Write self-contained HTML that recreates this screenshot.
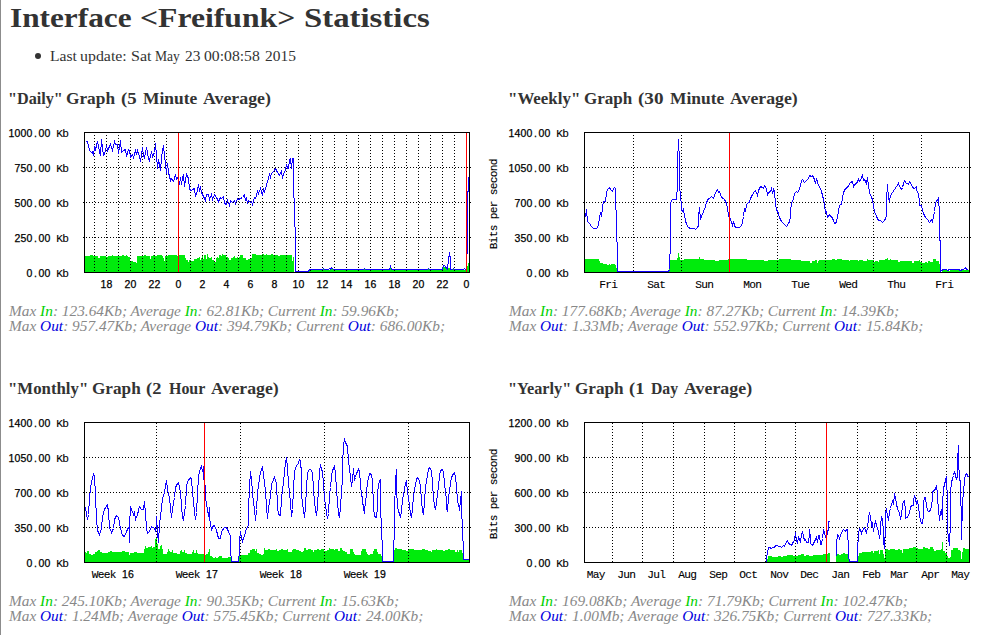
<!DOCTYPE html>
<html><head><meta charset="utf-8"><title>Interface Freifunk Statistics</title>
<style>
html,body{margin:0;padding:0;background:#fff;}
body{width:990px;height:635px;position:relative;overflow:hidden;font-family:"Liberation Serif",serif;}
h1,h2,p,ul,li{margin:0;padding:0;list-style:none;font-size:0;line-height:0;position:static}
.x{position:absolute;white-space:nowrap;transform-origin:0 0;display:block}
.i{color:#00d000} .o{color:#0000dd}
#edge{position:absolute;left:0;top:0;width:1px;height:635px;background:#8c8c8c}
#bul{position:absolute;left:35px;top:53px;width:6px;height:6px;border-radius:50%;background:#333}
svg{position:absolute;left:0;top:0}
.g{stroke:#000;stroke-width:1;stroke-dasharray:1 2;shape-rendering:crispEdges}
.t{font:10.5px "Liberation Sans",sans-serif;fill:#000;text-anchor:middle;stroke:#000;stroke-width:.25px}
.m{font:11.2px "Liberation Mono",monospace;stroke-width:.1px}
</style></head><body>
<div id="edge"></div>
<div id="bul"></div>
<h1>
<span id="h10" class="x" style="left:10.10px;top:5.14px;font:bold 27.3px/1 'Liberation Serif',serif;color:#333;transform:scaleX(1.1460)">Interface</span>
<span id="h11" class="x" style="left:140.00px;top:5.14px;font:bold 27.3px/1 'Liberation Serif',serif;color:#333;transform:scaleX(1.1611)">&lt;Freifunk&gt;</span>
<span id="h12" class="x" style="left:303.80px;top:5.14px;font:bold 27.3px/1 'Liberation Serif',serif;color:#333;transform:scaleX(1.2013)">Statistics</span>
</h1>
<ul><li>
<span id="lu0" class="x" style="left:49.60px;top:49.42px;font:normal 14.3px/1 'Liberation Serif',serif;color:#333;transform:scaleX(1.0924)">Last</span>
<span id="lu1" class="x" style="left:79.90px;top:49.42px;font:normal 14.3px/1 'Liberation Serif',serif;color:#333;transform:scaleX(1.1118)">update:</span>
<span id="lu2" class="x" style="left:130.70px;top:49.42px;font:normal 14.3px/1 'Liberation Serif',serif;color:#333;transform:scaleX(1.1214)">Sat</span>
<span id="lu3" class="x" style="left:154.70px;top:49.42px;font:normal 14.3px/1 'Liberation Serif',serif;color:#333;transform:scaleX(0.9497)">May</span>
<span id="lu4" class="x" style="left:184.80px;top:49.42px;font:normal 14.3px/1 'Liberation Serif',serif;color:#333;transform:scaleX(1.0772)">23</span>
<span id="lu5" class="x" style="left:204.10px;top:49.42px;font:normal 14.3px/1 'Liberation Serif',serif;color:#333;transform:scaleX(1.0975)">00:08:58</span>
<span id="lu6" class="x" style="left:264.60px;top:49.42px;font:normal 14.3px/1 'Liberation Serif',serif;color:#333;transform:scaleX(1.0807)">2015</span>
</li></ul>
<h2>
<span id="hd0" class="x" style="left:8.35px;top:90.50px;font:bold 16px/1 'Liberation Serif',serif;color:#333;transform:scaleX(1.0116)">&quot;Daily&quot;</span>
<span id="hd1" class="x" style="left:66.20px;top:90.50px;font:bold 16px/1 'Liberation Serif',serif;color:#333;transform:scaleX(1.0806)">Graph</span>
<span id="hd2" class="x" style="left:120.70px;top:90.50px;font:bold 16px/1 'Liberation Serif',serif;color:#333;transform:scaleX(1.1780)">(5</span>
<span id="hd3" class="x" style="left:142.90px;top:90.50px;font:bold 16px/1 'Liberation Serif',serif;color:#333;transform:scaleX(1.0888)">Minute</span>
<span id="hd4" class="x" style="left:203.00px;top:90.50px;font:bold 16px/1 'Liberation Serif',serif;color:#333;transform:scaleX(1.1131)">Average)</span>
</h2>
<h2>
<span id="hw0" class="x" style="left:508.20px;top:90.50px;font:bold 16px/1 'Liberation Serif',serif;color:#333;transform:scaleX(1.0564)">&quot;Weekly&quot;</span>
<span id="hw1" class="x" style="left:583.90px;top:90.50px;font:bold 16px/1 'Liberation Serif',serif;color:#333;transform:scaleX(1.0630)">Graph</span>
<span id="hw2" class="x" style="left:637.70px;top:90.50px;font:bold 16px/1 'Liberation Serif',serif;color:#333;transform:scaleX(1.1956)">(30</span>
<span id="hw3" class="x" style="left:669.70px;top:90.50px;font:bold 16px/1 'Liberation Serif',serif;color:#333;transform:scaleX(1.0888)">Minute</span>
<span id="hw4" class="x" style="left:729.80px;top:90.50px;font:bold 16px/1 'Liberation Serif',serif;color:#333;transform:scaleX(1.1098)">Average)</span>
</h2>
<h2>
<span id="hm0" class="x" style="left:8.20px;top:380.50px;font:bold 16px/1 'Liberation Serif',serif;color:#333;transform:scaleX(1.0492)">&quot;Monthly&quot;</span>
<span id="hm1" class="x" style="left:91.80px;top:380.50px;font:bold 16px/1 'Liberation Serif',serif;color:#333;transform:scaleX(1.0740)">Graph</span>
<span id="hm2" class="x" style="left:146.10px;top:380.50px;font:bold 16px/1 'Liberation Serif',serif;color:#333;transform:scaleX(1.1555)">(2</span>
<span id="hm3" class="x" style="left:168.80px;top:380.50px;font:bold 16px/1 'Liberation Serif',serif;color:#333;transform:scaleX(0.9958)">Hour</span>
<span id="hm4" class="x" style="left:211.20px;top:380.50px;font:bold 16px/1 'Liberation Serif',serif;color:#333;transform:scaleX(1.1098)">Average)</span>
</h2>
<h2>
<span id="hy0" class="x" style="left:508.20px;top:380.50px;font:bold 16px/1 'Liberation Serif',serif;color:#333;transform:scaleX(1.0160)">&quot;Yearly&quot;</span>
<span id="hy1" class="x" style="left:575.00px;top:380.50px;font:bold 16px/1 'Liberation Serif',serif;color:#333;transform:scaleX(1.0718)">Graph</span>
<span id="hy2" class="x" style="left:629.10px;top:380.50px;font:bold 16px/1 'Liberation Serif',serif;color:#333;transform:scaleX(1.1555)">(1</span>
<span id="hy3" class="x" style="left:650.80px;top:380.50px;font:bold 16px/1 'Liberation Serif',serif;color:#333;transform:scaleX(0.9832)">Day</span>
<span id="hy4" class="x" style="left:684.00px;top:380.50px;font:bold 16px/1 'Liberation Serif',serif;color:#333;transform:scaleX(1.1164)">Average)</span>
</h2>
<p>
<span id="s1a" class="x" style="left:8.70px;top:303.91px;font:italic 14.2px/1 'Liberation Serif',serif;color:#888;transform:scaleX(1.0815)">Max <span class="i">In</span>: 123.64Kb; Average <span class="i">In</span>: 62.81Kb; Current <span class="i">In</span>: 59.96Kb;</span>
<span id="s1b" class="x" style="left:8.70px;top:318.91px;font:italic 14.2px/1 'Liberation Serif',serif;color:#888;transform:scaleX(1.0815)">Max <span class="o">Out</span>: 957.47Kb; Average <span class="o">Out</span>: 394.79Kb; Current <span class="o">Out</span>: 686.00Kb;</span>
</p>
<p>
<span id="s2a" class="x" style="left:508.70px;top:303.91px;font:italic 14.2px/1 'Liberation Serif',serif;color:#888;transform:scaleX(1.0815)">Max <span class="i">In</span>: 177.68Kb; Average <span class="i">In</span>: 87.27Kb; Current <span class="i">In</span>: 14.39Kb;</span>
<span id="s2b" class="x" style="left:508.70px;top:318.91px;font:italic 14.2px/1 'Liberation Serif',serif;color:#888;transform:scaleX(1.0782)">Max <span class="o">Out</span>: 1.33Mb; Average <span class="o">Out</span>: 552.97Kb; Current <span class="o">Out</span>: 15.84Kb;</span>
</p>
<p>
<span id="s3a" class="x" style="left:8.70px;top:593.91px;font:italic 14.2px/1 'Liberation Serif',serif;color:#888;transform:scaleX(1.0815)">Max <span class="i">In</span>: 245.10Kb; Average <span class="i">In</span>: 90.35Kb; Current <span class="i">In</span>: 15.63Kb;</span>
<span id="s3b" class="x" style="left:8.70px;top:608.91px;font:italic 14.2px/1 'Liberation Serif',serif;color:#888;transform:scaleX(1.0782)">Max <span class="o">Out</span>: 1.24Mb; Average <span class="o">Out</span>: 575.45Kb; Current <span class="o">Out</span>: 24.00Kb;</span>
</p>
<p>
<span id="s4a" class="x" style="left:508.70px;top:593.91px;font:italic 14.2px/1 'Liberation Serif',serif;color:#888;transform:scaleX(1.0846)">Max <span class="i">In</span>: 169.08Kb; Average <span class="i">In</span>: 71.79Kb; Current <span class="i">In</span>: 102.47Kb;</span>
<span id="s4b" class="x" style="left:508.70px;top:608.91px;font:italic 14.2px/1 'Liberation Serif',serif;color:#888;transform:scaleX(1.0814)">Max <span class="o">Out</span>: 1.00Mb; Average <span class="o">Out</span>: 326.75Kb; Current <span class="o">Out</span>: 727.33Kb;</span>
</p>
<svg width="990" height="635" viewBox="0 0 990 635">
<path d="M84.0,272.5L84.0,256.0L90.1,256.0L90.1,255.1L92.9,255.1L92.9,256.0L98.4,256.0L98.4,257.9L100.1,257.9L100.1,256.0L106.2,256.0L106.2,256.8L107.9,256.8L107.9,255.7L111.8,255.7L111.8,255.1L112.9,255.1L112.9,255.7L121.8,255.7L121.8,255.1L124.0,255.1L124.0,255.7L125.7,255.7L125.7,255.1L127.3,255.1L127.3,256.0L128.4,256.0L128.4,257.3L129.6,257.3L129.6,261.8L130.7,261.8L130.7,260.9L132.9,260.9L132.9,261.6L134.6,261.6L134.6,262.3L136.2,262.3L136.2,262.9L137.1,262.9L137.1,256.0L144.0,256.0L144.0,255.1L145.7,255.1L145.7,256.0L150.1,256.0L150.1,259.0L151.2,259.0L151.2,255.7L153.4,255.7L153.4,255.1L155.1,255.1L155.1,256.0L157.3,256.0L157.3,255.1L161.8,255.1L161.8,256.0L162.9,256.0L162.9,258.4L164.0,258.4L164.0,260.7L165.1,260.7L165.1,256.0L168.4,256.0L168.4,255.1L177.3,255.1L177.3,255.7L178.4,255.7L178.4,255.1L184.6,255.1L184.6,257.9L185.7,257.9L185.7,260.1L187.9,260.1L187.9,261.8L189.0,261.8L189.0,260.1L190.0,260.1L190.0,260.1L191.1,260.1L191.1,260.7L193.9,260.7L193.9,259.0L196.7,259.0L196.7,257.9L198.9,257.9L198.9,257.1L200.0,257.1L200.0,259.6L201.1,259.6L201.1,258.4L202.2,258.4L202.2,255.1L203.1,255.1L203.1,259.0L204.4,259.0L204.4,254.9L205.6,254.9L205.6,259.0L206.7,259.0L206.7,254.2L207.8,254.2L207.8,257.3L209.4,257.3L209.4,258.4L210.6,258.4L210.6,257.1L211.7,257.1L211.7,259.6L213.3,259.6L213.3,260.1L214.4,260.1L214.4,261.8L215.6,261.8L215.6,258.4L216.7,258.4L216.7,256.8L217.8,256.8L217.8,257.9L219.4,257.9L219.4,255.1L220.6,255.1L220.6,256.0L221.7,256.0L221.7,254.2L223.3,254.2L223.3,255.3L225.6,255.3L225.6,256.8L227.8,256.8L227.8,257.9L229.4,257.9L229.4,259.6L231.1,259.6L231.1,258.4L232.8,258.4L232.8,257.3L233.9,257.3L233.9,256.0L235.0,256.0L235.0,257.9L236.7,257.9L236.7,257.1L237.8,257.1L237.8,258.4L238.9,258.4L238.9,257.3L240.0,257.3L240.0,254.9L242.8,254.9L242.8,257.9L245.6,257.9L245.6,259.6L247.8,259.6L247.8,259.0L250.0,259.0L250.0,257.9L251.7,257.9L251.7,254.2L256.1,254.2L256.1,254.9L262.2,254.9L262.2,254.2L263.9,254.2L263.9,254.7L266.1,254.7L266.1,254.0L267.2,254.0L267.2,254.9L271.1,254.9L271.1,254.2L272.8,254.2L272.8,254.9L274.4,254.9L274.4,255.3L276.7,255.3L276.7,254.9L277.8,254.9L277.8,255.6L280.0,255.6L280.0,255.1L285.6,255.1L285.6,254.9L288.9,254.9L288.9,255.3L291.1,255.3L291.1,254.9L292.0,254.9L292.0,261.2L293.1,261.2L293.1,257.1L294.4,257.1L294.5,272.5L308.6,272.5L309.6,270.0L322.6,270.0L323.4,268.8L324.4,270.0L330.0,270.0L331.6,268.0L333.0,270.0L364.0,270.0L364.6,269.0L365.4,270.0L389.6,270.0L390.4,267.0L391.4,270.0L428.0,270.0L428.5,269.0L429.0,270.0L442.0,270.0L443.5,266.5L446.0,268.0L447.0,270.0L448.0,270.0L449.0,267.0L450.5,269.0L452.0,270.0L453.0,270.0L453.6,268.5L454.2,270.0L466.5,270.0L467.5,266.0L468.7,263.0L469.5,263.0L469.5,272.5Z" fill="#00eb0c" stroke="none" shape-rendering="crispEdges"/>
<line x1="83.0" y1="167.5" x2="471.0" y2="167.5" class="g"/>
<line x1="83.0" y1="202.5" x2="471.0" y2="202.5" class="g"/>
<line x1="83.0" y1="237.5" x2="471.0" y2="237.5" class="g"/>
<line x1="94.5" y1="135.0" x2="94.5" y2="272.5" class="g"/>
<line x1="106.5" y1="135.0" x2="106.5" y2="272.5" class="g"/>
<line x1="118.5" y1="135.0" x2="118.5" y2="272.5" class="g"/>
<line x1="130.5" y1="135.0" x2="130.5" y2="272.5" class="g"/>
<line x1="142.5" y1="135.0" x2="142.5" y2="272.5" class="g"/>
<line x1="154.5" y1="135.0" x2="154.5" y2="272.5" class="g"/>
<line x1="166.5" y1="135.0" x2="166.5" y2="272.5" class="g"/>
<line x1="178.5" y1="135.0" x2="178.5" y2="272.5" class="g"/>
<line x1="190.5" y1="135.0" x2="190.5" y2="272.5" class="g"/>
<line x1="202.5" y1="135.0" x2="202.5" y2="272.5" class="g"/>
<line x1="214.5" y1="135.0" x2="214.5" y2="272.5" class="g"/>
<line x1="226.5" y1="135.0" x2="226.5" y2="272.5" class="g"/>
<line x1="238.5" y1="135.0" x2="238.5" y2="272.5" class="g"/>
<line x1="250.5" y1="135.0" x2="250.5" y2="272.5" class="g"/>
<line x1="262.5" y1="135.0" x2="262.5" y2="272.5" class="g"/>
<line x1="274.5" y1="135.0" x2="274.5" y2="272.5" class="g"/>
<line x1="286.5" y1="135.0" x2="286.5" y2="272.5" class="g"/>
<line x1="298.5" y1="135.0" x2="298.5" y2="272.5" class="g"/>
<line x1="310.5" y1="135.0" x2="310.5" y2="272.5" class="g"/>
<line x1="322.5" y1="135.0" x2="322.5" y2="272.5" class="g"/>
<line x1="334.5" y1="135.0" x2="334.5" y2="272.5" class="g"/>
<line x1="346.5" y1="135.0" x2="346.5" y2="272.5" class="g"/>
<line x1="358.5" y1="135.0" x2="358.5" y2="272.5" class="g"/>
<line x1="370.5" y1="135.0" x2="370.5" y2="272.5" class="g"/>
<line x1="382.5" y1="135.0" x2="382.5" y2="272.5" class="g"/>
<line x1="394.5" y1="135.0" x2="394.5" y2="272.5" class="g"/>
<line x1="406.5" y1="135.0" x2="406.5" y2="272.5" class="g"/>
<line x1="418.5" y1="135.0" x2="418.5" y2="272.5" class="g"/>
<line x1="430.5" y1="135.0" x2="430.5" y2="272.5" class="g"/>
<line x1="442.5" y1="135.0" x2="442.5" y2="272.5" class="g"/>
<line x1="454.5" y1="135.0" x2="454.5" y2="272.5" class="g"/>
<line x1="466.5" y1="135.0" x2="466.5" y2="272.5" class="g"/>
<polyline points="85.5,141.5 87.5,141.5 89.5,150.5 91.5,152.5 92.5,151.5 93.5,155.5 94.5,147.5 95.5,149.5 97.5,141.5 99.5,151.5 100.5,155.5 101.5,139.5 103.5,155.5 104.5,154.5 106.5,145.5 107.5,150.5 109.5,146.5 110.5,144.5 112.5,150.5 114.5,141.5 115.5,144.5 117.5,144.5 118.5,153.5 120.5,140.5 121.5,152.5 123.5,150.5 125.5,149.5 126.5,156.5 128.5,149.5 129.5,150.5 130.5,157.5 132.5,154.5 133.5,157.5 135.5,150.5 136.5,154.5 137.5,150.5 139.5,156.5 140.5,161.5 142.5,147.5 143.5,155.5 144.5,157.5 146.5,147.5 148.5,158.5 149.5,160.5 151.5,151.5 152.5,156.5 154.5,152.5 155.5,143.5 157.5,168.5 158.5,159.5 160.5,170.5 161.5,157.5 163.5,145.5 164.5,155.5 166.5,173.5 167.5,163.5 168.5,172.5 170.5,180.5 171.5,178.5 173.5,181.5 175.5,174.5 176.5,179.5 178.5,176.5 179.5,184.5 180.5,177.5 181.5,184.5 182.5,177.5 183.5,174.5 184.5,186.5 185.5,180.5 186.5,174.5 188.5,178.5 189.5,189.5 191.5,190.5 192.5,189.5 194.5,188.5 195.5,196.5 197.5,190.5 198.5,184.5 199.5,191.5 200.5,186.5 201.5,192.5 203.5,196.5 205.5,200.5 206.5,194.5 208.5,194.5 209.5,199.5 211.5,194.5 212.5,199.5 214.5,194.5 216.5,197.5 218.5,201.5 220.5,197.5 221.5,198.5 223.5,196.5 224.5,203.5 226.5,204.5 227.5,200.5 229.5,205.5 230.5,200.5 232.5,202.5 234.5,200.5 235.5,203.5 237.5,198.5 238.5,199.5 240.5,198.5 242.5,197.5 244.5,194.5 245.5,200.5 246.5,197.5 247.5,203.5 248.5,200.5 250.5,202.5 251.5,201.5 252.5,204.5 254.5,197.5 255.5,198.5 257.5,191.5 258.5,193.5 260.5,188.5 262.5,195.5 263.5,189.5 264.5,191.5 265.5,188.5 267.5,181.5 269.5,174.5 270.5,177.5 271.5,173.5 273.5,171.5 275.5,168.5 277.5,172.5 279.5,175.5 281.5,170.5 282.5,178.5 283.5,173.5 285.5,170.5 286.5,164.5 287.5,168.5 288.5,168.5 289.5,159.5 290.5,158.5 291.5,168.5 292.5,158.5 293.5,158.5 293.5,197.5 294.5,198.5 295.5,254.5 295.5,271.5 308.5,271.5 309.5,269.5 322.5,269.5 323.5,268.5 324.5,269.5 328.5,269.5 329.5,268.5 330.5,269.5 331.5,267.5 333.5,269.5 363.5,269.5 364.5,268.5 365.5,269.5 376.5,269.5 389.5,269.5 390.5,266.5 391.5,269.5 427.5,269.5 428.5,268.5 429.5,269.5 442.5,269.5 443.5,265.5 444.5,265.5 447.5,269.5 448.5,259.5 449.5,252.5 450.5,260.5 450.5,269.5 452.5,269.5 453.5,268.5 454.5,269.5 463.5,269.5 464.5,268.5 465.5,269.5 466.5,269.5 467.5,237.5 467.5,191.5 468.5,191.5 468.5,176.5" fill="none" stroke="#1000ff" stroke-width="1" stroke-linejoin="miter" shape-rendering="crispEdges"/>
<line x1="178.5" y1="132.5" x2="178.5" y2="272.5" stroke="#ff0000" stroke-width="1" shape-rendering="crispEdges"/>
<line x1="466.5" y1="132.5" x2="466.5" y2="272.5" stroke="#ff0000" stroke-width="1" shape-rendering="crispEdges"/>
<rect x="84.5" y="132.5" width="385" height="140" fill="none" stroke="#000" stroke-width="1" shape-rendering="crispEdges"/>
<text x="11.5 17.5 23.5 29.5 35.5 41.5 47.5" y="136.8" class="t">1000.00</text><text x="59.5 65.5" y="136.8" class="t m">Kb</text>
<text x="17.5 23.5 29.5 35.5 41.5 47.5" y="171.8" class="t">750.00</text><text x="59.5 65.5" y="171.8" class="t m">Kb</text>
<text x="17.5 23.5 29.5 35.5 41.5 47.5" y="206.8" class="t">500.00</text><text x="59.5 65.5" y="206.8" class="t m">Kb</text>
<text x="17.5 23.5 29.5 35.5 41.5 47.5" y="241.8" class="t">250.00</text><text x="59.5 65.5" y="241.8" class="t m">Kb</text>
<text x="29.5 35.5 41.5 47.5" y="276.8" class="t">0.00</text><text x="59.5 65.5" y="276.8" class="t m">Kb</text>
<text x="103.5 109.5" y="287.7" class="t">18</text>
<text x="127.5 133.5" y="287.7" class="t">20</text>
<text x="151.5 157.5" y="287.7" class="t">22</text>
<text x="178.5" y="287.7" class="t">0</text>
<text x="202.5" y="287.7" class="t">2</text>
<text x="226.5" y="287.7" class="t">4</text>
<text x="250.5" y="287.7" class="t">6</text>
<text x="274.5" y="287.7" class="t">8</text>
<text x="295.5 301.5" y="287.7" class="t">10</text>
<text x="319.5 325.5" y="287.7" class="t">12</text>
<text x="343.5 349.5" y="287.7" class="t">14</text>
<text x="367.5 373.5" y="287.7" class="t">16</text>
<text x="391.5 397.5" y="287.7" class="t">18</text>
<text x="415.5 421.5" y="287.7" class="t">20</text>
<text x="439.5 445.5" y="287.7" class="t">22</text>
<text x="466.5" y="287.7" class="t">0</text>
<path d="M584.0,272.5L584.0,259.0L599.0,259.0L599.0,260.7L600.1,260.7L600.1,263.1L602.9,263.1L602.9,264.0L606.8,264.0L606.8,264.9L609.0,264.9L609.0,264.0L610.1,264.0L610.1,264.7L611.2,264.7L611.2,264.0L614.6,264.0L614.6,264.9L616.0,264.9L616.0,267.9L617.1,267.9L617.1,272.6L669.0,272.6L669.0,269.0L670.1,269.0L670.1,260.1L676.8,260.1L676.8,257.9L677.9,257.9L677.9,252.9L679.0,252.9L679.0,257.1L680.1,257.1L680.1,259.6L681.8,259.6L681.8,259.8L684.0,259.8L684.0,259.0L690.0,259.0L690.0,259.0L698.9,259.0L698.9,257.1L700.0,257.1L700.0,259.0L703.9,259.0L703.9,260.1L715.0,260.1L715.0,260.9L718.9,260.9L718.9,260.1L723.3,260.1L723.3,259.6L728.3,259.6L728.3,259.0L746.7,259.0L746.7,260.1L763.9,260.1L763.9,260.7L767.8,260.7L767.8,260.1L778.9,260.1L778.9,259.0L790.6,259.0L790.6,260.1L796.0,260.1L796.0,260.1L801.0,260.1L801.0,260.9L803.8,260.9L803.8,260.7L809.9,260.7L809.9,262.9L812.1,262.9L812.1,260.9L815.4,260.9L815.4,260.4L817.1,260.4L817.1,262.7L818.2,262.7L818.2,261.2L819.3,261.2L819.3,260.1L823.8,260.1L823.8,259.6L832.1,259.6L832.1,259.0L834.9,259.0L834.9,259.6L837.1,259.6L837.1,258.8L838.8,258.8L838.8,259.3L841.6,259.3L841.6,260.1L849.3,260.1L849.3,260.7L850.4,260.7L850.4,260.1L858.2,260.1L858.2,260.7L859.3,260.7L859.3,260.1L862.7,260.1L862.7,260.7L866.6,260.7L866.6,259.3L868.2,259.3L868.2,260.1L873.8,260.1L873.8,262.3L875.4,262.3L875.4,260.9L878.2,260.9L878.2,261.6L879.3,261.6L879.3,260.4L882.1,260.4L882.1,259.9L884.9,259.9L884.9,259.0L886.6,259.0L886.6,257.9L888.2,257.9L888.2,259.6L889.9,259.6L889.9,258.8L891.0,258.8L891.0,260.1L897.7,260.5L897.7,261.5L899.7,261.5L899.7,260.5L904.2,260.5L904.2,260.7L906.8,260.7L906.8,260.5L911.8,260.5L911.8,263.0L913.8,263.0L913.8,260.5L918.9,260.5L918.9,259.5L920.4,259.5L920.4,261.5L921.9,261.5L921.9,263.0L924.9,263.0L924.9,261.5L926.5,261.5L926.5,262.5L928.0,262.5L928.0,261.0L929.5,261.0L929.5,261.5L932.5,261.5L932.5,259.3L935.6,259.3L935.6,260.5L939.1,260.5L939.1,264.0L940.4,264.0L940.4,272.4L941.6,272.4L941.6,271.1L943.1,271.1L943.1,269.9L946.2,269.9L946.2,269.9L947.9,269.9L947.9,270.9L949.7,270.9L949.7,269.9L958.8,269.9L958.8,269.9L960.6,269.9L960.6,270.9L962.0,270.9L962.0,269.9L963.8,269.9L963.8,269.6L965.7,269.6L965.7,267.7L966.9,267.7L966.9,269.6L969.4,269.6L969.4,272.5Z" fill="#00eb0c" stroke="none" shape-rendering="crispEdges"/>
<line x1="583.0" y1="167.5" x2="971.0" y2="167.5" class="g"/>
<line x1="583.0" y1="202.5" x2="971.0" y2="202.5" class="g"/>
<line x1="583.0" y1="237.5" x2="971.0" y2="237.5" class="g"/>
<line x1="633.5" y1="135.0" x2="633.5" y2="272.5" class="g"/>
<line x1="681.5" y1="135.0" x2="681.5" y2="272.5" class="g"/>
<line x1="729.5" y1="135.0" x2="729.5" y2="272.5" class="g"/>
<line x1="777.5" y1="135.0" x2="777.5" y2="272.5" class="g"/>
<line x1="825.5" y1="135.0" x2="825.5" y2="272.5" class="g"/>
<line x1="873.5" y1="135.0" x2="873.5" y2="272.5" class="g"/>
<line x1="921.5" y1="135.0" x2="921.5" y2="272.5" class="g"/>
<polyline points="584.5,213.5 585.5,216.5 586.5,209.5 587.5,221.5 589.5,223.5 591.5,226.5 593.5,228.5 596.5,228.5 598.5,225.5 599.5,217.5 600.5,212.5 601.5,216.5 602.5,207.5 603.5,201.5 605.5,201.5 606.5,192.5 607.5,189.5 609.5,187.5 610.5,189.5 612.5,191.5 613.5,188.5 614.5,187.5 615.5,188.5 615.5,209.5 616.5,210.5 617.5,271.5 668.5,271.5 669.5,269.5 670.5,240.5 670.5,224.5 670.5,202.5 672.5,199.5 674.5,199.5 676.5,199.5 676.5,192.5 677.5,191.5 677.5,170.5 677.5,162.5 678.5,139.5 679.5,162.5 679.5,190.5 679.5,190.5 680.5,191.5 681.5,210.5 682.5,211.5 683.5,209.5 684.5,215.5 685.5,220.5 686.5,224.5 688.5,227.5 690.5,228.5 694.5,228.5 695.5,229.5 697.5,227.5 698.5,225.5 698.5,216.5 699.5,207.5 700.5,219.5 701.5,216.5 703.5,211.5 705.5,206.5 706.5,202.5 708.5,198.5 709.5,198.5 711.5,196.5 713.5,198.5 715.5,192.5 717.5,189.5 718.5,192.5 719.5,191.5 721.5,197.5 723.5,198.5 724.5,199.5 726.5,203.5 727.5,207.5 728.5,215.5 730.5,219.5 731.5,222.5 732.5,225.5 733.5,221.5 734.5,225.5 735.5,227.5 737.5,227.5 739.5,227.5 741.5,225.5 742.5,222.5 743.5,216.5 744.5,208.5 745.5,211.5 746.5,204.5 748.5,202.5 749.5,202.5 750.5,198.5 752.5,194.5 754.5,191.5 755.5,190.5 757.5,195.5 758.5,190.5 760.5,186.5 762.5,187.5 763.5,188.5 764.5,185.5 766.5,188.5 767.5,195.5 768.5,192.5 770.5,191.5 771.5,188.5 772.5,193.5 773.5,189.5 774.5,191.5 775.5,203.5 776.5,210.5 777.5,210.5 778.5,214.5 779.5,217.5 781.5,221.5 784.5,224.5 786.5,226.5 788.5,223.5 789.5,221.5 790.5,216.5 790.5,210.5 791.5,203.5 793.5,198.5 794.5,193.5 796.5,191.5 797.5,192.5 799.5,189.5 800.5,185.5 801.5,180.5 802.5,179.5 804.5,182.5 806.5,180.5 808.5,178.5 809.5,175.5 811.5,176.5 812.5,175.5 813.5,177.5 814.5,179.5 815.5,183.5 816.5,178.5 817.5,182.5 819.5,187.5 820.5,188.5 821.5,191.5 823.5,199.5 824.5,204.5 825.5,212.5 826.5,211.5 827.5,217.5 829.5,214.5 830.5,216.5 831.5,216.5 833.5,220.5 834.5,223.5 836.5,222.5 837.5,216.5 838.5,211.5 839.5,205.5 840.5,204.5 841.5,204.5 842.5,197.5 843.5,192.5 845.5,188.5 847.5,187.5 848.5,185.5 850.5,182.5 852.5,181.5 853.5,186.5 854.5,184.5 856.5,183.5 858.5,179.5 859.5,181.5 861.5,178.5 862.5,174.5 863.5,180.5 864.5,179.5 866.5,183.5 867.5,177.5 868.5,185.5 869.5,192.5 871.5,197.5 872.5,199.5 873.5,205.5 874.5,211.5 876.5,216.5 878.5,220.5 880.5,220.5 882.5,222.5 884.5,220.5 885.5,218.5 886.5,215.5 886.5,199.5 887.5,184.5 888.5,199.5 888.5,193.5 889.5,201.5 890.5,195.5 892.5,192.5 894.5,189.5 896.5,186.5 897.5,185.5 898.5,183.5 899.5,186.5 901.5,189.5 902.5,187.5 903.5,183.5 904.5,180.5 906.5,183.5 907.5,183.5 908.5,184.5 909.5,181.5 911.5,184.5 912.5,187.5 914.5,188.5 916.5,186.5 916.5,189.5 918.5,194.5 919.5,201.5 919.5,205.5 921.5,205.5 922.5,210.5 923.5,213.5 925.5,217.5 927.5,219.5 929.5,222.5 931.5,219.5 932.5,222.5 933.5,216.5 934.5,211.5 935.5,203.5 936.5,200.5 937.5,200.5 938.5,197.5 938.5,205.5 939.5,206.5 940.5,271.5 941.5,270.5 943.5,269.5 946.5,269.5 947.5,270.5 949.5,269.5 958.5,269.5 960.5,270.5 962.5,269.5 963.5,269.5 965.5,267.5 966.5,269.5 967.5,269.5" fill="none" stroke="#1000ff" stroke-width="1" stroke-linejoin="miter" shape-rendering="crispEdges"/>
<line x1="729.5" y1="132.5" x2="729.5" y2="272.5" stroke="#ff0000" stroke-width="1" shape-rendering="crispEdges"/>
<rect x="584.5" y="132.5" width="385" height="140" fill="none" stroke="#000" stroke-width="1" shape-rendering="crispEdges"/>
<text x="511.5 517.5 523.5 529.5 535.5 541.5 547.5" y="136.8" class="t">1400.00</text><text x="559.5 565.5" y="136.8" class="t m">Kb</text>
<text x="511.5 517.5 523.5 529.5 535.5 541.5 547.5" y="171.8" class="t">1050.00</text><text x="559.5 565.5" y="171.8" class="t m">Kb</text>
<text x="517.5 523.5 529.5 535.5 541.5 547.5" y="206.8" class="t">700.00</text><text x="559.5 565.5" y="206.8" class="t m">Kb</text>
<text x="517.5 523.5 529.5 535.5 541.5 547.5" y="241.8" class="t">350.00</text><text x="559.5 565.5" y="241.8" class="t m">Kb</text>
<text x="529.5 535.5 541.5 547.5" y="276.8" class="t">0.00</text><text x="559.5 565.5" y="276.8" class="t m">Kb</text>
<text x="602.5 608.5 614.5" y="287.7" class="t m">Fri</text>
<text x="650.5 656.5 662.5" y="287.7" class="t m">Sat</text>
<text x="698.5 704.5 710.5" y="287.7" class="t m">Sun</text>
<text x="746.5 752.5 758.5" y="287.7" class="t m">Mon</text>
<text x="794.5 800.5 806.5" y="287.7" class="t m">Tue</text>
<text x="842.5 848.5 854.5" y="287.7" class="t m">Wed</text>
<text x="890.5 896.5 902.5" y="287.7" class="t m">Thu</text>
<text x="938.5 944.5 950.5" y="287.7" class="t m">Fri</text>
<text x="454.5 460.5 466.5 472.5 484.5 490.5 496.5 508.5 514.5 520.5 526.5 532.5 538.5" y="204.0" class="t m" transform="rotate(-90 496.5 204.0)">Bitspersecond</text>
<path d="M84.0,562.5L84.0,551.7L86.2,551.7L86.2,552.8L87.3,552.8L87.3,551.1L89.0,551.1L89.0,553.9L91.2,553.9L91.2,554.7L93.4,554.7L93.4,553.6L95.1,553.6L95.1,552.2L96.8,552.2L96.8,550.6L98.4,550.6L98.4,550.0L100.1,550.0L100.1,551.7L101.8,551.7L101.8,553.1L107.9,553.1L107.9,551.7L110.1,551.7L110.1,551.1L111.8,551.1L111.8,551.7L115.1,551.7L115.1,552.0L121.8,552.0L121.8,551.1L125.1,551.1L125.1,552.2L129.0,552.2L129.0,554.7L130.1,554.7L130.1,553.1L134.0,553.1L134.0,552.2L136.8,552.2L136.8,553.1L144.0,553.1L144.0,548.9L145.1,548.9L145.1,546.4L146.2,546.4L146.2,548.0L148.4,548.0L148.4,547.2L150.7,547.2L150.7,546.1L152.0,546.1L152.0,547.8L153.4,547.8L153.4,546.7L154.6,546.7L154.6,538.9L155.7,538.9L155.7,537.2L156.8,537.2L156.8,544.4L157.9,544.4L157.9,549.4L159.6,549.4L159.6,545.6L160.7,545.6L160.7,545.0L162.3,545.0L162.3,548.9L163.1,548.9L163.1,553.9L166.8,553.9L166.8,551.7L167.9,551.7L167.9,549.1L169.0,549.1L169.0,550.6L170.1,550.6L170.1,551.7L171.8,551.7L171.8,550.0L172.9,550.0L172.9,553.3L176.2,553.3L176.2,552.8L177.3,552.8L177.3,553.9L180.1,553.9L180.1,551.1L181.2,551.1L181.2,550.2L182.3,550.2L182.3,551.7L184.0,551.7L184.0,550.2L185.1,550.2L185.1,553.3L186.8,553.3L186.8,553.9L190.0,553.9L190.0,553.9L192.2,553.9L192.2,552.2L193.3,552.2L193.3,550.0L194.4,550.0L194.4,552.8L195.6,552.8L195.6,550.2L196.7,550.2L196.7,553.3L198.3,553.3L198.3,554.2L203.9,554.2L203.9,554.7L206.1,554.7L206.1,553.9L207.8,553.9L207.8,551.7L208.9,551.7L208.9,549.1L210.0,549.1L210.0,556.1L211.7,556.1L211.7,557.2L213.3,557.2L213.3,557.8L215.0,557.8L215.0,556.9L216.1,556.9L216.1,557.8L218.3,557.8L218.3,556.7L219.4,556.7L219.4,556.1L222.2,556.1L222.2,557.6L223.9,557.6L223.9,557.8L227.8,557.8L227.8,556.9L230.6,556.9L230.6,557.8L231.3,557.8L231.3,562.4L238.9,562.4L238.9,556.1L240.6,556.1L240.6,555.0L248.3,555.0L248.3,553.3L250.0,553.3L250.0,550.0L252.2,550.0L252.2,549.1L255.0,549.1L255.0,550.6L256.1,550.6L256.1,549.4L257.2,549.4L257.2,553.3L258.9,553.3L258.9,554.4L261.1,554.4L261.1,555.0L263.3,555.0L263.3,553.9L264.2,553.9L264.2,547.8L265.0,547.8L265.0,550.0L267.8,550.0L267.8,549.4L270.0,549.4L270.0,550.0L276.1,550.0L276.1,549.1L277.2,549.1L277.2,550.6L278.9,550.6L278.9,549.8L280.6,549.8L280.6,549.1L283.3,549.1L283.3,550.0L286.7,550.0L286.7,549.1L288.3,549.1L288.3,551.7L291.7,551.7L291.7,549.8L293.3,549.8L293.3,549.1L296.0,549.1L296.0,550.0L299.3,550.0L299.3,550.6L301.0,550.6L301.0,551.7L302.7,551.7L302.7,550.6L304.3,550.6L304.3,548.3L306.0,548.3L306.0,550.0L307.7,550.0L307.7,549.1L311.0,549.1L311.0,550.0L312.7,550.0L312.7,551.7L314.3,551.7L314.3,550.2L316.6,550.2L316.6,549.4L319.3,549.4L319.3,550.2L321.0,550.2L321.0,549.4L324.3,549.4L324.3,551.1L326.6,551.1L326.6,550.0L328.8,550.0L328.8,548.3L330.4,548.3L330.4,549.1L333.8,549.1L333.8,550.0L335.4,550.0L335.4,549.4L337.7,549.4L337.7,551.1L339.9,551.1L339.9,548.3L341.6,548.3L341.6,550.0L343.2,550.0L343.2,551.1L345.4,551.1L345.4,552.2L347.1,552.2L347.1,553.9L349.9,553.9L349.9,555.0L350.4,555.0L350.4,549.1L352.7,549.1L352.7,551.7L353.8,551.7L353.8,553.9L355.4,553.9L355.4,555.0L361.0,555.0L361.0,550.6L362.1,550.6L362.1,549.1L366.0,549.1L366.0,551.7L367.1,551.7L367.1,553.9L368.2,553.9L368.2,555.0L369.9,555.0L369.9,554.2L373.2,554.2L373.2,550.6L374.3,550.6L374.3,549.1L376.6,549.1L376.6,551.7L377.7,551.7L377.7,553.9L381.0,553.9L381.0,555.6L382.1,555.6L382.1,562.4L393.8,562.4L393.8,550.0L395.4,550.0L395.4,548.3L396.6,548.3L396.6,549.1L396.7,548.0L396.7,549.1L402.2,549.1L402.2,550.0L406.1,550.0L406.1,550.6L408.3,550.6L408.3,549.1L413.9,549.1L413.9,550.0L421.7,550.0L421.7,549.1L425.0,549.1L425.0,550.0L427.8,550.0L427.8,550.9L430.6,550.9L430.6,551.7L432.2,551.7L432.2,550.0L435.6,550.0L435.6,549.1L436.7,549.1L436.7,550.0L443.3,550.0L443.3,550.9L445.0,550.9L445.0,550.0L448.3,550.0L448.3,548.9L450.0,548.9L450.0,550.0L455.0,550.0L455.0,551.7L456.7,551.7L456.7,550.0L457.8,550.0L457.8,551.7L458.9,551.7L458.9,550.0L462.2,550.0L462.2,552.8L463.3,552.8L463.3,560.2L469.6,560.2L469.6,562.5Z" fill="#00eb0c" stroke="none" shape-rendering="crispEdges"/>
<line x1="83.0" y1="457.5" x2="471.0" y2="457.5" class="g"/>
<line x1="83.0" y1="492.5" x2="471.0" y2="492.5" class="g"/>
<line x1="83.0" y1="527.5" x2="471.0" y2="527.5" class="g"/>
<line x1="156.5" y1="423.0" x2="156.5" y2="562.5" class="g"/>
<line x1="240.5" y1="423.0" x2="240.5" y2="562.5" class="g"/>
<line x1="324.5" y1="423.0" x2="324.5" y2="562.5" class="g"/>
<line x1="408.5" y1="423.0" x2="408.5" y2="562.5" class="g"/>
<polyline points="84.5,506.5 85.5,508.5 86.5,513.5 87.5,519.5 88.5,514.5 89.5,497.5 91.5,481.5 93.5,474.5 94.5,476.5 95.5,495.5 96.5,519.5 97.5,530.5 99.5,534.5 101.5,528.5 102.5,516.5 104.5,509.5 107.5,504.5 108.5,512.5 109.5,527.5 111.5,532.5 113.5,528.5 114.5,519.5 116.5,515.5 118.5,517.5 120.5,528.5 122.5,535.5 124.5,536.5 126.5,531.5 128.5,527.5 129.5,527.5 129.5,542.5 129.5,524.5 130.5,507.5 131.5,509.5 133.5,514.5 134.5,512.5 135.5,519.5 137.5,514.5 139.5,506.5 141.5,509.5 143.5,509.5 144.5,501.5 145.5,514.5 146.5,527.5 147.5,533.5 149.5,531.5 151.5,526.5 154.5,528.5 155.5,530.5 156.5,525.5 156.5,516.5 157.5,533.5 158.5,542.5 159.5,524.5 161.5,508.5 162.5,498.5 164.5,492.5 166.5,480.5 167.5,489.5 169.5,497.5 170.5,508.5 171.5,517.5 172.5,509.5 174.5,497.5 175.5,487.5 177.5,483.5 178.5,482.5 180.5,492.5 181.5,505.5 182.5,517.5 183.5,519.5 185.5,505.5 186.5,487.5 187.5,481.5 190.5,477.5 191.5,479.5 192.5,492.5 194.5,511.5 195.5,519.5 196.5,512.5 197.5,494.5 198.5,475.5 200.5,468.5 201.5,466.5 202.5,471.5 203.5,466.5 204.5,492.5 205.5,485.5 205.5,498.5 207.5,509.5 208.5,516.5 209.5,507.5 209.5,517.5 211.5,530.5 212.5,526.5 214.5,525.5 216.5,530.5 218.5,538.5 220.5,538.5 221.5,531.5 224.5,527.5 226.5,527.5 228.5,531.5 230.5,536.5 230.5,550.5 231.5,561.5 238.5,561.5 239.5,550.5 239.5,540.5 240.5,531.5 241.5,537.5 242.5,541.5 244.5,535.5 246.5,528.5 248.5,525.5 248.5,509.5 249.5,486.5 250.5,471.5 251.5,483.5 251.5,476.5 252.5,494.5 254.5,509.5 255.5,520.5 256.5,509.5 257.5,492.5 259.5,478.5 260.5,472.5 261.5,469.5 262.5,466.5 263.5,475.5 265.5,490.5 266.5,506.5 267.5,518.5 268.5,508.5 270.5,495.5 271.5,484.5 273.5,479.5 274.5,477.5 276.5,483.5 277.5,506.5 278.5,514.5 280.5,515.5 281.5,498.5 283.5,482.5 284.5,471.5 285.5,463.5 286.5,457.5 287.5,468.5 288.5,483.5 290.5,502.5 291.5,516.5 292.5,509.5 293.5,488.5 294.5,471.5 296.5,465.5 298.5,463.5 299.5,459.5 300.5,460.5 301.5,474.5 301.5,494.5 303.5,510.5 304.5,517.5 305.5,507.5 306.5,487.5 307.5,472.5 309.5,469.5 310.5,469.5 312.5,472.5 313.5,488.5 314.5,502.5 315.5,509.5 316.5,515.5 317.5,506.5 318.5,488.5 319.5,472.5 320.5,464.5 321.5,469.5 322.5,471.5 323.5,483.5 324.5,498.5 326.5,512.5 327.5,518.5 328.5,513.5 329.5,494.5 330.5,487.5 331.5,477.5 332.5,469.5 333.5,469.5 334.5,465.5 335.5,474.5 336.5,488.5 337.5,502.5 338.5,513.5 339.5,517.5 340.5,506.5 341.5,491.5 342.5,479.5 342.5,463.5 343.5,446.5 344.5,438.5 345.5,443.5 346.5,443.5 347.5,447.5 348.5,460.5 350.5,476.5 351.5,486.5 352.5,480.5 353.5,468.5 354.5,480.5 355.5,477.5 356.5,473.5 358.5,469.5 359.5,471.5 360.5,483.5 361.5,496.5 361.5,490.5 362.5,501.5 364.5,513.5 364.5,510.5 366.5,493.5 367.5,480.5 368.5,479.5 369.5,473.5 371.5,474.5 372.5,480.5 373.5,506.5 374.5,516.5 376.5,517.5 377.5,506.5 377.5,492.5 379.5,480.5 380.5,479.5 380.5,506.5 381.5,528.5 382.5,551.5 382.5,561.5 393.5,561.5 393.5,551.5 394.5,528.5 394.5,511.5 395.5,480.5 396.5,469.5 396.5,488.5 397.5,506.5 399.5,514.5 400.5,517.5 401.5,511.5 402.5,499.5 404.5,489.5 405.5,483.5 406.5,481.5 407.5,491.5 409.5,505.5 410.5,514.5 411.5,517.5 412.5,508.5 413.5,495.5 415.5,484.5 416.5,479.5 417.5,477.5 419.5,480.5 420.5,486.5 421.5,500.5 422.5,511.5 423.5,514.5 424.5,502.5 425.5,486.5 427.5,475.5 428.5,469.5 429.5,467.5 431.5,470.5 432.5,483.5 433.5,497.5 434.5,506.5 435.5,509.5 436.5,502.5 438.5,486.5 439.5,475.5 440.5,470.5 442.5,469.5 443.5,472.5 444.5,483.5 446.5,499.5 446.5,508.5 447.5,510.5 448.5,497.5 450.5,483.5 451.5,477.5 453.5,473.5 454.5,472.5 455.5,477.5 456.5,486.5 457.5,500.5 459.5,509.5 459.5,510.5 460.5,500.5 461.5,491.5 461.5,516.5 462.5,520.5 463.5,559.5 469.5,559.5" fill="none" stroke="#1000ff" stroke-width="1" stroke-linejoin="miter" shape-rendering="crispEdges"/>
<line x1="204.5" y1="422.5" x2="204.5" y2="562.5" stroke="#ff0000" stroke-width="1" shape-rendering="crispEdges"/>
<rect x="84.5" y="422.5" width="385" height="140" fill="none" stroke="#000" stroke-width="1" shape-rendering="crispEdges"/>
<text x="11.5 17.5 23.5 29.5 35.5 41.5 47.5" y="426.8" class="t">1400.00</text><text x="59.5 65.5" y="426.8" class="t m">Kb</text>
<text x="11.5 17.5 23.5 29.5 35.5 41.5 47.5" y="461.8" class="t">1050.00</text><text x="59.5 65.5" y="461.8" class="t m">Kb</text>
<text x="17.5 23.5 29.5 35.5 41.5 47.5" y="496.8" class="t">700.00</text><text x="59.5 65.5" y="496.8" class="t m">Kb</text>
<text x="17.5 23.5 29.5 35.5 41.5 47.5" y="531.8" class="t">350.00</text><text x="59.5 65.5" y="531.8" class="t m">Kb</text>
<text x="29.5 35.5 41.5 47.5" y="566.8" class="t">0.00</text><text x="59.5 65.5" y="566.8" class="t m">Kb</text>
<text x="125.0 131.0" y="577.7" class="t">16</text><text x="95.0 101.0 107.0 113.0" y="577.7" class="t m">Week</text>
<text x="209.0 215.0" y="577.7" class="t">17</text><text x="179.0 185.0 191.0 197.0" y="577.7" class="t m">Week</text>
<text x="293.0 299.0" y="577.7" class="t">18</text><text x="263.0 269.0 275.0 281.0" y="577.7" class="t m">Week</text>
<text x="377.0 383.0" y="577.7" class="t">19</text><text x="347.0 353.0 359.0 365.0" y="577.7" class="t m">Week</text>
<path d="M584.5,562.5L584.5,562.5L765.5,562.5L766.3,558.6L767.6,558.6L767.6,556.1L772.1,556.1L772.1,557.1L777.7,557.1L777.7,556.1L781.2,556.1L781.2,556.6L783.2,556.6L783.2,555.6L786.8,555.6L786.8,555.1L793.3,555.1L793.3,555.6L797.9,555.6L797.9,555.1L801.4,555.1L801.4,554.0L804.4,554.0L804.4,555.6L806.0,555.6L806.0,555.1L808.5,555.1L808.5,555.6L812.5,555.6L812.5,555.1L816.6,555.1L816.6,554.5L819.6,554.5L819.6,555.1L822.6,555.1L822.6,554.3L825.7,554.3L825.7,554.0L827.5,554.0L827.5,553.0L829.7,553.0L829.7,563.1L836.3,563.1L836.3,555.1L837.3,555.1L837.3,553.5L838.8,553.5L838.8,555.1L840.8,555.1L840.8,554.0L841.8,554.0L843.0,554.3L843.0,553.3L845.1,553.3L845.1,554.0L848.1,554.0L848.1,556.5L849.1,556.5L849.1,562.1L857.4,562.1L857.4,555.5L858.7,555.5L858.7,552.7L861.7,552.7L861.7,552.3L871.3,552.3L871.3,551.3L872.8,551.3L872.8,553.0L873.8,553.0L873.8,551.3L874.8,551.3L874.8,550.9L877.9,550.9L877.9,550.2L879.4,550.2L879.4,553.5L880.4,553.5L880.4,550.2L882.9,550.2L882.9,553.5L884.1,553.5L884.1,557.5L884.9,557.5L884.9,549.4L888.0,549.4L888.0,550.4L890.0,550.4L890.0,549.4L895.1,549.4L895.1,549.9L897.6,549.9L897.6,548.9L900.1,548.9L900.1,550.4L901.6,550.4L901.6,552.5L902.8,552.5L902.8,549.4L904.6,549.4L904.6,548.9L908.7,548.9L908.7,548.2L912.7,548.2L912.7,547.4L915.8,547.4L915.8,548.2L917.8,548.2L917.8,549.4L919.8,549.4L919.8,548.9L922.8,548.9L922.8,547.4L925.4,547.4L925.4,548.2L927.9,548.2L927.9,548.9L930.4,548.9L930.4,547.4L932.9,547.4L932.9,548.9L934.4,548.9L934.4,550.9L936.0,550.9L936.0,550.4L938.0,550.4L938.0,549.9L940.0,549.9L940.0,550.4L940.5,550.4L940.5,549.4L941.7,549.4L941.7,542.2L942.7,542.2L942.7,550.9L945.1,550.9L945.1,552.5L946.6,552.5L946.6,556.0L947.6,556.0L947.6,557.5L949.6,557.5L949.6,556.5L950.6,556.5L950.6,549.9L952.6,549.9L952.6,547.9L957.7,547.9L957.7,549.9L959.7,549.9L959.7,550.9L960.9,550.9L960.9,559.0L961.9,559.0L961.9,552.0L963.2,552.0L963.2,547.9L965.3,547.9L965.3,548.9L968.8,548.9L968.8,562.5Z" fill="#00eb0c" stroke="none" shape-rendering="crispEdges"/>
<line x1="583.0" y1="457.5" x2="971.0" y2="457.5" class="g"/>
<line x1="583.0" y1="492.5" x2="971.0" y2="492.5" class="g"/>
<line x1="583.0" y1="527.5" x2="971.0" y2="527.5" class="g"/>
<line x1="612.5" y1="423.0" x2="612.5" y2="562.5" class="g"/>
<line x1="642.5" y1="423.0" x2="642.5" y2="562.5" class="g"/>
<line x1="673.5" y1="423.0" x2="673.5" y2="562.5" class="g"/>
<line x1="704.5" y1="423.0" x2="704.5" y2="562.5" class="g"/>
<line x1="734.5" y1="423.0" x2="734.5" y2="562.5" class="g"/>
<line x1="765.5" y1="423.0" x2="765.5" y2="562.5" class="g"/>
<line x1="795.5" y1="423.0" x2="795.5" y2="562.5" class="g"/>
<line x1="826.5" y1="423.0" x2="826.5" y2="562.5" class="g"/>
<line x1="857.5" y1="423.0" x2="857.5" y2="562.5" class="g"/>
<line x1="885.5" y1="423.0" x2="885.5" y2="562.5" class="g"/>
<line x1="916.5" y1="423.0" x2="916.5" y2="562.5" class="g"/>
<line x1="946.5" y1="423.0" x2="946.5" y2="562.5" class="g"/>
<polyline points="766.5,561.5 766.5,558.5 767.5,552.5 768.5,547.5 769.5,547.5 771.5,548.5 772.5,547.5 774.5,547.5 775.5,545.5 777.5,545.5 778.5,546.5 780.5,546.5 781.5,547.5 783.5,545.5 784.5,546.5 785.5,543.5 787.5,540.5 788.5,543.5 790.5,544.5 791.5,545.5 793.5,541.5 794.5,540.5 795.5,532.5 796.5,540.5 797.5,543.5 798.5,537.5 799.5,539.5 800.5,541.5 801.5,535.5 802.5,531.5 803.5,536.5 804.5,540.5 805.5,539.5 806.5,542.5 808.5,542.5 809.5,534.5 809.5,529.5 810.5,538.5 810.5,543.5 812.5,545.5 814.5,541.5 815.5,539.5 816.5,537.5 817.5,542.5 818.5,535.5 819.5,535.5 820.5,544.5 821.5,544.5 822.5,538.5 823.5,529.5 824.5,532.5 825.5,537.5 826.5,537.5 827.5,532.5 828.5,528.5 828.5,521.5 829.5,521.5" fill="none" stroke="#1000ff" stroke-width="1" stroke-linejoin="miter" shape-rendering="crispEdges"/>
<polyline points="836.5,555.5 836.5,543.5 837.5,534.5 838.5,535.5 839.5,538.5 840.5,535.5 841.5,532.5 843.5,529.5 845.5,531.5 846.5,529.5 847.5,529.5 847.5,539.5 848.5,540.5 848.5,555.5 849.5,561.5 857.5,561.5 857.5,555.5 857.5,549.5 858.5,534.5 859.5,528.5 860.5,529.5 861.5,533.5 862.5,530.5 864.5,527.5 865.5,530.5 866.5,532.5 867.5,527.5 868.5,518.5 869.5,512.5 870.5,516.5 871.5,525.5 872.5,523.5 873.5,531.5 874.5,524.5 875.5,521.5 876.5,525.5 877.5,528.5 878.5,531.5 879.5,538.5 880.5,532.5 880.5,524.5 881.5,517.5 882.5,519.5 883.5,532.5 883.5,540.5 884.5,548.5 885.5,526.5 885.5,514.5 886.5,508.5 886.5,510.5 888.5,520.5 889.5,511.5 890.5,508.5 891.5,504.5 892.5,501.5 893.5,504.5 894.5,493.5 895.5,497.5 896.5,504.5 897.5,508.5 899.5,513.5 900.5,518.5 901.5,515.5 902.5,504.5 903.5,501.5 904.5,500.5 905.5,510.5 905.5,518.5 906.5,517.5 908.5,516.5 909.5,512.5 910.5,507.5 911.5,505.5 913.5,505.5 913.5,500.5 914.5,495.5 915.5,499.5 916.5,503.5 917.5,500.5 918.5,506.5 919.5,515.5 920.5,520.5 921.5,523.5 922.5,523.5 923.5,514.5 923.5,503.5 924.5,497.5 925.5,497.5 926.5,505.5 927.5,510.5 928.5,511.5 930.5,510.5 931.5,505.5 932.5,499.5 932.5,491.5 934.5,490.5 935.5,488.5 936.5,486.5 937.5,493.5 937.5,499.5 938.5,508.5 939.5,520.5 940.5,512.5 941.5,510.5 942.5,519.5 942.5,504.5 943.5,488.5 944.5,484.5 945.5,480.5 946.5,476.5 947.5,502.5 947.5,530.5 949.5,545.5 950.5,520.5 950.5,491.5 951.5,482.5 952.5,478.5 953.5,475.5 954.5,471.5 955.5,475.5 956.5,479.5 957.5,475.5 957.5,461.5 958.5,445.5 958.5,461.5 959.5,478.5 960.5,482.5 960.5,499.5 961.5,512.5 961.5,539.5 962.5,502.5 963.5,491.5 964.5,480.5 965.5,474.5 966.5,473.5 967.5,475.5 968.5,477.5" fill="none" stroke="#1000ff" stroke-width="1" stroke-linejoin="miter" shape-rendering="crispEdges"/>
<line x1="826.5" y1="422.5" x2="826.5" y2="562.5" stroke="#ff0000" stroke-width="1" shape-rendering="crispEdges"/>
<rect x="584.5" y="422.5" width="385" height="140" fill="none" stroke="#000" stroke-width="1" shape-rendering="crispEdges"/>
<text x="511.5 517.5 523.5 529.5 535.5 541.5 547.5" y="426.8" class="t">1200.00</text><text x="559.5 565.5" y="426.8" class="t m">Kb</text>
<text x="517.5 523.5 529.5 535.5 541.5 547.5" y="461.8" class="t">900.00</text><text x="559.5 565.5" y="461.8" class="t m">Kb</text>
<text x="517.5 523.5 529.5 535.5 541.5 547.5" y="496.8" class="t">600.00</text><text x="559.5 565.5" y="496.8" class="t m">Kb</text>
<text x="517.5 523.5 529.5 535.5 541.5 547.5" y="531.8" class="t">300.00</text><text x="559.5 565.5" y="531.8" class="t m">Kb</text>
<text x="529.5 535.5 541.5 547.5" y="566.8" class="t">0.00</text><text x="559.5 565.5" y="566.8" class="t m">Kb</text>
<text x="590.0 596.0 602.0" y="577.7" class="t m">May</text>
<text x="620.5 626.5 632.5" y="577.7" class="t m">Jun</text>
<text x="650.5 656.5 662.5" y="577.7" class="t m">Jul</text>
<text x="681.5 687.5 693.5" y="577.7" class="t m">Aug</text>
<text x="712.5 718.5 724.5" y="577.7" class="t m">Sep</text>
<text x="742.5 748.5 754.5" y="577.7" class="t m">Oct</text>
<text x="773.5 779.5 785.5" y="577.7" class="t m">Nov</text>
<text x="803.5 809.5 815.5" y="577.7" class="t m">Dec</text>
<text x="834.5 840.5 846.5" y="577.7" class="t m">Jan</text>
<text x="865.5 871.5 877.5" y="577.7" class="t m">Feb</text>
<text x="893.5 899.5 905.5" y="577.7" class="t m">Mar</text>
<text x="924.5 930.5 936.5" y="577.7" class="t m">Apr</text>
<text x="954.5 960.5 966.5" y="577.7" class="t m">May</text>
<text x="454.5 460.5 466.5 472.5 484.5 490.5 496.5 508.5 514.5 520.5 526.5 532.5 538.5" y="494.0" class="t m" transform="rotate(-90 496.5 494.0)">Bitspersecond</text>
</svg>
</body></html>
